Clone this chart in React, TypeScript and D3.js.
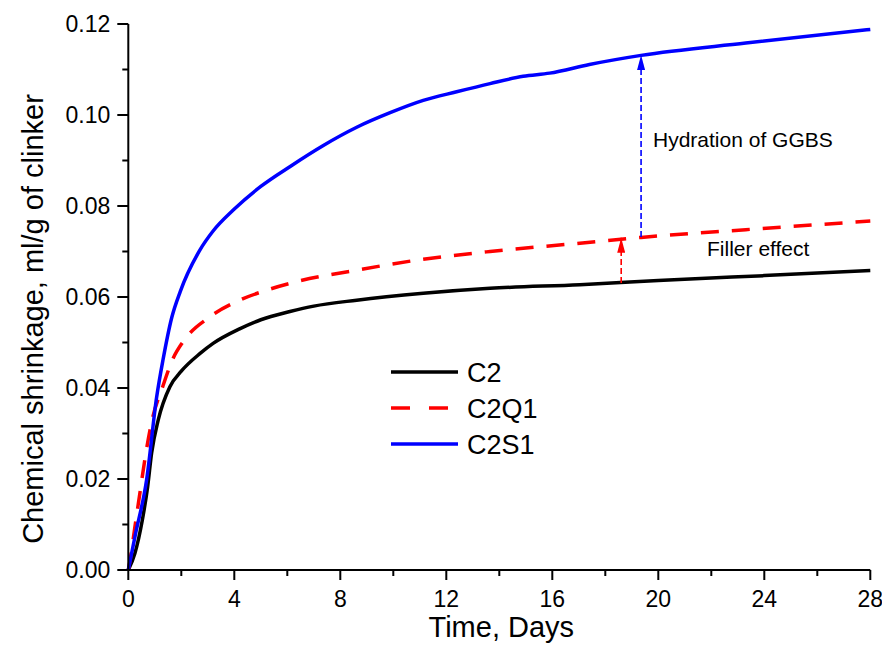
import React from "react";
import * as d3 from "d3";

// ---- data ----
const daysC2 = [0, 0.25, 0.53, 0.73, 0.88, 1.13, 1.57, 2.0, 2.71, 3.2, 4.2, 5.0, 6.1, 7.0, 8.62, 11.13, 13.65, 17.04, 20, 24, 28];
const valsC2 = [0, 0.0037, 0.011, 0.0183, 0.0257, 0.033, 0.0403, 0.0437, 0.0476, 0.0498, 0.053, 0.055, 0.0568, 0.058, 0.0593, 0.0608, 0.0619, 0.0627, 0.0636, 0.0647, 0.0658];

const daysC2Q1 = [0, 0.09, 0.25, 0.44, 0.63, 0.88, 1.31, 1.69, 2.07, 3.09, 4.2, 5.22, 6.3, 8.62, 11.13, 13.65, 16.8, 19.35, 23.3, 28];
const valsC2Q1 = [0, 0.003, 0.0095, 0.017, 0.0245, 0.0325, 0.0405, 0.0465, 0.0502, 0.0557, 0.0593, 0.0615, 0.0633, 0.0659, 0.0683, 0.07, 0.0717, 0.0731, 0.0748, 0.0767];

const daysC2S1 = [0, 0.25, 0.69, 1.07, 1.31, 1.64, 1.96, 2.7, 3.2, 3.96, 5.0, 6.11, 7.36, 8.62, 9.88, 11.13, 12.39, 13.65, 14.9, 15.9, 17.4, 19.35, 23.3, 28];
const valsC2S1 = [0, 0.0073, 0.0198, 0.038, 0.0462, 0.0555, 0.0612, 0.0703, 0.0745, 0.0791, 0.0843, 0.0887, 0.0933, 0.0973, 0.1005, 0.1032, 0.1051, 0.1069, 0.1085, 0.1092, 0.1111, 0.1131, 0.1158, 0.1188];

const seriesNames = ["C2", "C2Q1", "C2S1"];
const xTicks = [0, 4, 8, 12, 16, 20, 24, 28];
const yTicks = [0, 0.02, 0.04, 0.06, 0.08, 0.1, 0.12];
const yTickLabels = ["0.00", "0.02", "0.04", "0.06", "0.08", "0.10", "0.12"];

// annotations in data units
const fillerArrow = { day: 18.6, from: 0.0631, to: 0.073 };
const ggbsArrow = { day: 19.35, from: 0.0732, to: 0.1132 };
const fillerLabel = { day: 21.84, value: 0.069, text: "Filler effect" };
const ggbsLabel = { day: 19.8, value: 0.093, text: "Hydration of GGBS" };

const W = 882;
const H = 645;
const FONT = "'Liberation Sans', Arial, sans-serif";

export default function App() {
  const x = d3.scaleLinear().domain([0, 28]).range([128.3, 870.3]);
  const y = d3.scaleLinear().domain([0, 0.12]).range([570, 24]);

  const mk = (ds: number[], vs: number[]) => ds.map((d, i) => [d, vs[i]] as [number, number]);
  const line = d3
    .line<[number, number]>()
    .x((p) => x(p[0]))
    .y((p) => y(p[1]))
    .curve(d3.curveMonotoneX);

  const series = [
    { name: seriesNames[0], data: mk(daysC2, valsC2), color: "#000000", dash: undefined as string | undefined, legendDash: undefined as string | undefined },
    { name: seriesNames[1], data: mk(daysC2Q1, valsC2Q1), color: "#ff0000", dash: "18,13", legendDash: "19,19" },
    { name: seriesNames[2], data: mk(daysC2S1, valsC2S1), color: "#0000ff", dash: undefined, legendDash: undefined },
  ];

  const xMinor = d3.range(0, 28.001, 2).filter((v) => !xTicks.includes(v));
  const yMinor = d3.range(0.01, 0.12, 0.02);

  const x0 = x(0);
  const y0 = y(0);

  return (
    <svg
      width={W}
      height={H}
      style={{ position: "absolute", left: 0, top: 0, display: "block", background: "#fff" }}
      fontFamily={FONT}
    >
      <defs>
        <marker id="headRed" markerUnits="userSpaceOnUse" markerWidth="15" markerHeight="8" refX="15" refY="4" orient="auto" viewBox="0 0 15 8">
          <path d="M0,0 L15,4 L0,8 Z" fill="#ff0000" />
        </marker>
        <marker id="headBlue" markerUnits="userSpaceOnUse" markerWidth="15" markerHeight="8" refX="15" refY="4" orient="auto" viewBox="0 0 15 8">
          <path d="M0,0 L15,4 L0,8 Z" fill="#0000ff" />
        </marker>
      </defs>

      {/* curves */}
      {series.map((s) => (
        <path
          key={s.name}
          d={line(s.data) || ""}
          fill="none"
          stroke={s.color}
          strokeWidth={3.5}
          strokeDasharray={s.dash}
          strokeLinejoin="round"
        />
      ))}

      {/* annotation arrows */}
      <line
        x1={x(fillerArrow.day)}
        x2={x(fillerArrow.day)}
        y1={y(fillerArrow.from)}
        y2={y(fillerArrow.to)}
        stroke="#ff0000"
        strokeWidth={1.6}
        strokeDasharray="6,3"
        markerEnd="url(#headRed)"
      />
      <line
        x1={x(ggbsArrow.day)}
        x2={x(ggbsArrow.day)}
        y1={y(ggbsArrow.from)}
        y2={y(ggbsArrow.to)}
        stroke="#0000ff"
        strokeWidth={1.6}
        strokeDasharray="6,3"
        markerEnd="url(#headBlue)"
      />
      <text x={x(ggbsLabel.day)} y={y(ggbsLabel.value)} fontSize={21} fill="#000">
        {ggbsLabel.text}
      </text>
      <text x={x(fillerLabel.day)} y={y(fillerLabel.value)} fontSize={21} fill="#000">
        {fillerLabel.text}
      </text>

      {/* axes */}
      <line x1={x0} x2={x0} y1={y(0.12)} y2={y0 + 1} stroke="#000" strokeWidth={2} />
      <line x1={x0 - 1} x2={x(28)} y1={y0} y2={y0} stroke="#000" strokeWidth={2} />
      {yTicks.map((t, i) => (
        <g key={"yt" + t}>
          <line x1={x0 - 11} x2={x0} y1={y(t)} y2={y(t)} stroke="#000" strokeWidth={2} />
          <text x={x0 - 18} y={y(t)} dy="0.36em" textAnchor="end" fontSize={23} fill="#000">
            {yTickLabels[i]}
          </text>
        </g>
      ))}
      {yMinor.map((t) => (
        <line key={"ym" + t} x1={x0 - 6} x2={x0} y1={y(t)} y2={y(t)} stroke="#000" strokeWidth={2} />
      ))}
      {xTicks.map((t) => (
        <g key={"xt" + t}>
          <line x1={x(t)} x2={x(t)} y1={y0} y2={y0 + 10} stroke="#000" strokeWidth={2} />
          <text x={x(t)} y={607} textAnchor="middle" fontSize={23} fill="#000">
            {t}
          </text>
        </g>
      ))}
      {xMinor.map((t) => (
        <line key={"xm" + t} x1={x(t)} x2={x(t)} y1={y0} y2={y0 + 6} stroke="#000" strokeWidth={2} />
      ))}

      {/* axis titles */}
      <text x={(x(0) + x(28)) / 2 + 2} y={637} textAnchor="middle" fontSize={29} fill="#000">
        Time, Days
      </text>
      <text transform="translate(43,319) rotate(-90)" textAnchor="middle" fontSize={29} fill="#000">
        Chemical shrinkage, ml/g of clinker
      </text>

      {/* legend */}
      {series.map((s, i) => {
        const ly = 372 + i * 36;
        return (
          <g key={"lg" + s.name}>
            <line x1={391} x2={458} y1={ly} y2={ly} stroke={s.color} strokeWidth={3.5} strokeDasharray={s.legendDash} />
            <text x={467} y={ly} dy="0.36em" fontSize={27} fill="#000">
              {s.name}
            </text>
          </g>
        );
      })}
    </svg>
  );
}
